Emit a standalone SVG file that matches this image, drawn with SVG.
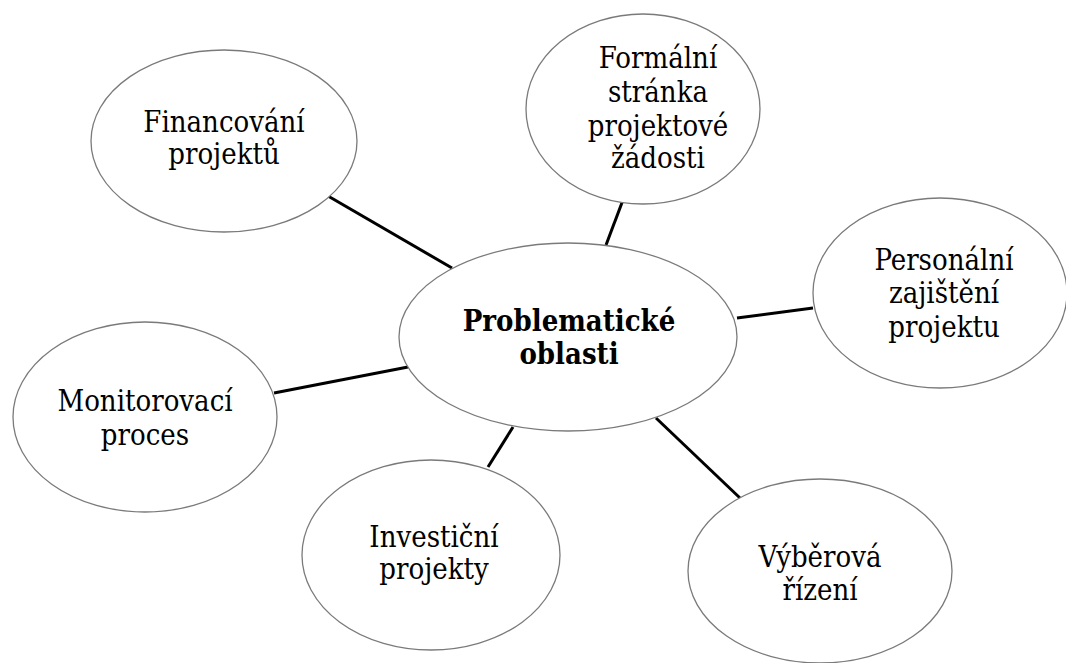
<svg xmlns="http://www.w3.org/2000/svg" width="1066" height="663" viewBox="0 0 1066 663">
<style>
.n{fill:#fff;stroke:#7a7a7a;stroke-width:1.3}
.t{font-family:"DejaVu Serif Condensed","DejaVu Serif","Liberation Serif",serif;font-stretch:condensed;font-size:29px;fill:#000;text-anchor:middle}
.b{font-weight:bold}
.c line{stroke:#000;stroke-width:3}
</style>
<rect width="1066" height="663" fill="#fff"/>
<g class="c" id="connectors">
<line x1="328" y1="196" x2="452" y2="268"/>
<line x1="623" y1="200" x2="606" y2="245"/>
<line x1="737" y1="318" x2="813" y2="308"/>
<line x1="274" y1="393" x2="408" y2="367"/>
<line x1="513" y1="427" x2="488" y2="467"/>
<line x1="656" y1="418" x2="740" y2="498"/>
</g>
<g id="center">
<ellipse class="n" cx="568" cy="337" rx="169" ry="94"/>
<text class="t b" x="569" y="331">Problematické</text>
<text class="t b" x="569" y="364">oblasti</text>
</g>
<g id="financovani">
<ellipse class="n" cx="224" cy="141" rx="133" ry="91"/>
<text class="t" x="224" y="132">Financování</text>
<text class="t" x="224" y="164">projektů</text>
</g>
<g id="formalni">
<ellipse class="n" cx="643" cy="109" rx="117" ry="95"/>
<text class="t" x="658" y="68">Formální</text>
<text class="t" x="658" y="102">stránka</text>
<text class="t" x="658" y="136">projektové</text>
<text class="t" x="658" y="168">žádosti</text>
</g>
<g id="personalni">
<ellipse class="n" cx="940" cy="293" rx="127" ry="95"/>
<text class="t" x="944" y="270">Personální</text>
<text class="t" x="944" y="303">zajištění</text>
<text class="t" x="944" y="337">projektu</text>
</g>
<g id="monitorovaci">
<ellipse class="n" cx="145" cy="417" rx="132" ry="95"/>
<text class="t" x="145" y="411">Monitorovací</text>
<text class="t" x="145" y="445">proces</text>
</g>
<g id="investicni">
<ellipse class="n" cx="431" cy="555" rx="129" ry="95"/>
<text class="t" x="434" y="547">Investiční</text>
<text class="t" x="434" y="579">projekty</text>
</g>
<g id="vyberova">
<ellipse class="n" cx="820" cy="571" rx="132" ry="92"/>
<text class="t" x="820" y="567">Výběrová</text>
<text class="t" x="820" y="600">řízení</text>
</g>
</svg>
